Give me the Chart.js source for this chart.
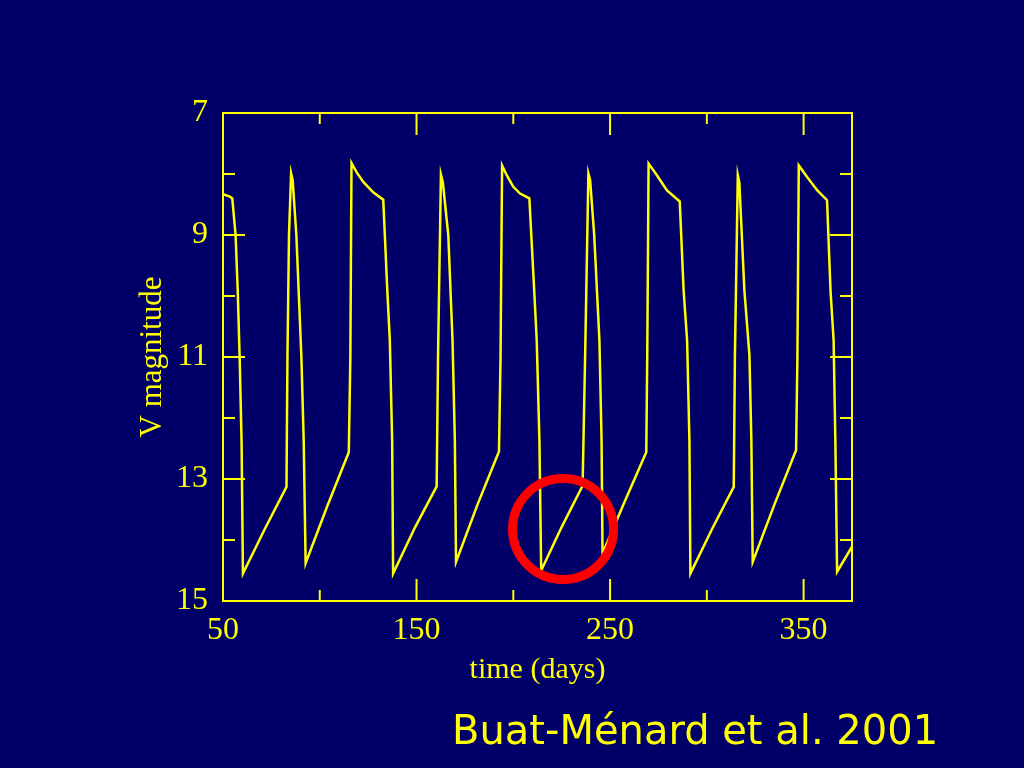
<!DOCTYPE html>
<html>
<head>
<meta charset="utf-8">
<script src="https://cdn.jsdelivr.net/npm/chart.js@4/dist/chart.umd.min.js"></script>
<style>
  html, body { margin: 0; padding: 0; background: #000068; }
  #wrap { position: relative; width: 1024px; height: 768px; }
  #cite {
    position: absolute; left: 452px; top: 710px;
    font-family: "DejaVu Sans", Verdana, sans-serif; font-size: 40px; line-height: 40px;
    color: #ffff00; white-space: nowrap;
  }
</style>
</head>
<body>
<div id="wrap">
  <canvas id="lc"></canvas>
  <div id="cite">Buat-Ménard et al. 2001</div>
</div>
<script>
// ── light curve ──
const days = [
  50.0, 53.5, 54.8, 56.5, 57.6, 58.6, 59.6, 60.3,
  71.6, 82.8, 83.3, 84.1, 85.2, 86.0, 87.9, 90.5, 91.7, 92.7,
  103.8, 115.0, 115.8, 116.4, 119.0, 122.5, 127.6, 132.8, 134.9, 136.2, 137.4, 137.9,
  149.1, 160.4, 161.1, 162.6, 163.6, 166.4, 168.6, 169.8, 170.4,
  181.5, 192.6, 193.4, 194.2, 196.6, 200.0, 203.5, 208.3, 210.8, 212.1, 213.5, 214.4,
  225.1, 235.8, 237.1, 238.8, 239.7, 241.8, 244.5, 245.6, 246.1,
  257.4, 268.7, 269.2, 269.9, 274.2, 279.4, 286.0, 288.0, 289.8, 291.0, 291.5,
  302.7, 313.9, 314.5, 316.0, 316.8, 319.4, 322.0, 323.0, 323.7,
  334.9, 346.1, 346.8, 347.5, 351.8, 357.1, 362.1, 363.9, 365.5, 366.4, 367.3,
  375.0
];
const vmag = [
  8.33, 8.37, 8.40, 9.00, 9.90, 11.00, 12.40, 14.55,
  13.82, 13.13, 11.00, 9.00, 7.99, 8.10, 9.00, 11.00, 12.37, 14.38,
  13.45, 12.56, 11.00, 7.82, 7.97, 8.13, 8.30, 8.42, 9.91, 10.73, 12.37, 14.55,
  13.80, 13.12, 11.00, 8.01, 8.14, 9.00, 10.73, 12.37, 14.36,
  13.42, 12.55, 11.00, 7.86, 8.02, 8.21, 8.32, 8.40, 9.91, 10.73, 12.37, 14.50,
  13.78, 13.11, 11.00, 7.99, 8.10, 9.00, 10.73, 12.37, 14.22,
  13.38, 12.56, 11.00, 7.83, 8.02, 8.27, 8.45, 9.91, 10.73, 12.37, 14.55,
  13.82, 13.13, 11.00, 8.02, 8.14, 9.91, 10.97, 12.37, 14.36,
  13.42, 12.53, 11.00, 7.86, 8.05, 8.27, 8.43, 9.91, 10.73, 12.37, 14.52,
  14.11
];

const xMajor = [50, 150, 250, 350];
const xMinor = [100, 200, 300];
const yMajor = [7, 9, 11, 13, 15];
const yMinor = [8, 10, 12, 14];

// red ring highlight, in data units (day, mag)
const ringAt = [225.7, 13.82];

const YELLOW = '#ffff00';
const SERIF = '"Liberation Serif", "Times New Roman", serif';

const frameTicks = {
  id: 'frameTicks',
  afterDatasetsDraw(chart) {
    const { ctx, chartArea: a, scales: { x, y } } = chart;
    ctx.save();
    ctx.strokeStyle = YELLOW;
    ctx.lineWidth = 2;
    ctx.strokeRect(a.left, a.top, a.right - a.left, a.bottom - a.top);

    ctx.beginPath();
    const xt = (v, len) => {
      const px = x.getPixelForValue(v);
      ctx.moveTo(px, a.bottom); ctx.lineTo(px, a.bottom - len);
      ctx.moveTo(px, a.top);    ctx.lineTo(px, a.top + len);
    };
    const yt = (v, len) => {
      const py = y.getPixelForValue(v);
      ctx.moveTo(a.left, py);  ctx.lineTo(a.left + len, py);
      ctx.moveTo(a.right, py); ctx.lineTo(a.right - len, py);
    };
    xMajor.forEach(v => xt(v, 22));
    xMinor.forEach(v => xt(v, 11));
    yMajor.forEach(v => yt(v, 22));
    yMinor.forEach(v => yt(v, 12));
    ctx.stroke();

    // highlight ring
    ctx.beginPath();
    ctx.strokeStyle = '#ff0000';
    ctx.lineWidth = 9;
    ctx.arc(x.getPixelForValue(ringAt[0]), y.getPixelForValue(ringAt[1]), 50.5, 0, Math.PI * 2);
    ctx.stroke();
    ctx.restore();
  }
};

new Chart(document.getElementById('lc'), {
  type: 'line',
  data: {
    datasets: [{
      data: days.map((d, i) => ({ x: d, y: vmag[i] })),
      borderColor: YELLOW,
      borderWidth: 2.5,
      pointRadius: 0,
      tension: 0,
      fill: false
    }]
  },
  options: {
    responsive: true,
    maintainAspectRatio: false,
    animation: false,
    layout: { padding: { left: 130, right: 172, top: 113, bottom: 80 } },
    plugins: { legend: { display: false }, tooltip: { enabled: false } },
    scales: {
      x: {
        type: 'linear',
        min: 50, max: 375,
        afterBuildTicks: s => { s.ticks = [...xMajor, ...xMinor].sort((a, b) => a - b).map(v => ({ value: v })); },
        afterFit: s => { s.height = 87; },
        grid: { display: false },
        border: { display: false },
        ticks: {
          color: YELLOW, padding: 2, maxRotation: 0,
          font: { family: SERIF, size: 32 },
          callback: v => xMajor.includes(v) ? String(v) : ''
        },
        title: {
          display: true, text: 'time (days)', color: YELLOW,
          font: { family: SERIF, size: 30 }, padding: { top: 0, bottom: 0 }
        }
      },
      y: {
        type: 'linear',
        reverse: true,
        min: 7, max: 15,
        afterBuildTicks: s => { s.ticks = [...yMajor, ...yMinor].sort((a, b) => a - b).map(v => ({ value: v })); },
        afterFit: s => { s.width = 93; },
        grid: { display: false },
        border: { display: false },
        ticks: {
          color: YELLOW, padding: 7,
          font: { family: SERIF, size: 32 },
          callback: v => yMajor.includes(v) ? String(v) : ''
        },
        title: {
          display: true, text: 'V magnitude', color: YELLOW,
          font: { family: SERIF, size: 31 }, padding: { top: 4, bottom: 0 }
        }
      }
    }
  },
  plugins: [frameTicks]
});
</script>
</body>
</html>
